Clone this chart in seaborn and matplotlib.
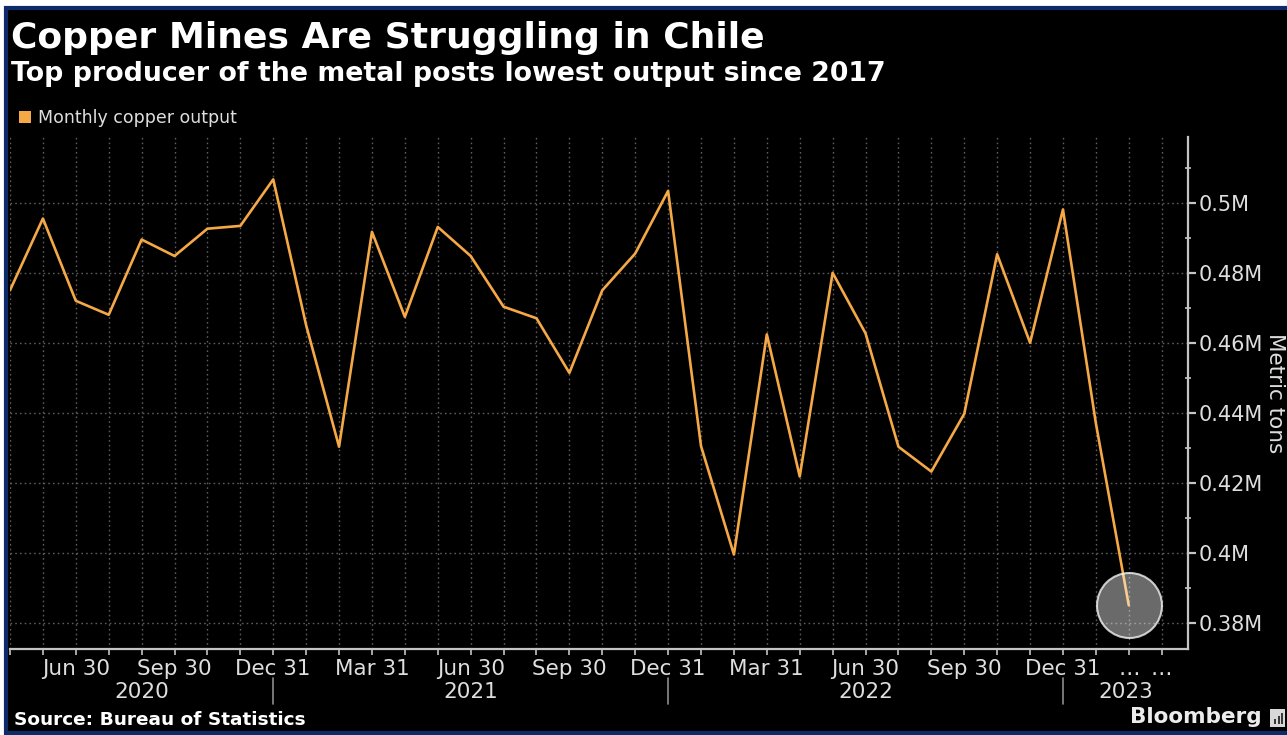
import matplotlib
matplotlib.use("Agg")
import matplotlib.pyplot as plt
from matplotlib.patches import Rectangle, Patch
from matplotlib.lines import Line2D
from matplotlib.ticker import FuncFormatter, MultipleLocator
import matplotlib.transforms as mtransforms
import numpy as np
import pandas as pd
import seaborn as sns

# Monthly copper output in Chile, metric tons (month-end values)
months = [
    "2020-04", "2020-05", "2020-06", "2020-07", "2020-08", "2020-09",
    "2020-10", "2020-11", "2020-12", "2021-01", "2021-02", "2021-03",
    "2021-04", "2021-05", "2021-06", "2021-07", "2021-08", "2021-09",
    "2021-10", "2021-11", "2021-12", "2022-01", "2022-02", "2022-03",
    "2022-04", "2022-05", "2022-06", "2022-07", "2022-08", "2022-09",
    "2022-10", "2022-11", "2022-12", "2023-01", "2023-02",
]
output_tons = [
    475000, 495500, 472000, 468000, 489500, 484800,
    492600, 493400, 506700, 465000, 430300, 491700,
    467400, 493100, 484800, 470300, 467000, 451400,
    475000, 485500, 503400, 430500, 399500, 462400,
    421800, 480000, 462700, 430300, 423200, 439700,
    485300, 460000, 498100, 437000, 385000,
]

# Quarter-end labels along the month axis (one slot per month tick)
tick_labels = [
    "", "", "Jun 30", "", "", "Sep 30", "", "", "Dec 31",
    "", "", "Mar 31", "", "", "Jun 30", "", "", "Sep 30", "", "", "Dec 31",
    "", "", "Mar 31", "", "", "Jun 30", "", "", "Sep 30", "", "", "Dec 31",
    "", "\u2026", "\u2026",
]
year_labels = ["2020", "2021", "2022", "2023"]
y_ticks = [380000, 400000, 420000, 440000, 460000, 480000, 500000]

title = "Copper Mines Are Struggling in Chile"
subtitle = "Top producer of the metal posts lowest output since 2017"
series_name = "Monthly copper output"
source = "Source: Bureau of Statistics"

ORANGE = "#F5A846"
TEXT = "#dedede"
AXIS = "#c4c4c4"
GRID = "#5c5c5c"
NAVY = "#0d2b6b"

df = pd.DataFrame({"month": months, "output": output_tons})
df["idx"] = np.arange(len(df))

sns.set_theme(style="dark", rc={
    "axes.facecolor": "black",
    "figure.facecolor": "white",
    "axes.edgecolor": AXIS,
    "text.color": "white",
})
plt.rcParams["font.family"] = ["DejaVu Sans"]

W, H = 1287, 735
fig = plt.figure(figsize=(W / 100, H / 100), dpi=100)

# black card with a navy frame
card = Rectangle((6 / W, 2.5 / H), 1.2, 1 - 10.5 / H, transform=fig.transFigure,
                 facecolor="black", edgecolor=NAVY, linewidth=3, zorder=-10)
fig.patches.append(card)

left, right, top, bottom = 10, 1188, 137, 649
ax = fig.add_axes([left / W, 1 - bottom / H, (right - left) / W, (bottom - top) / H])
ax.set_facecolor("black")

sns.lineplot(data=df, x="idx", y="output", ax=ax, color=ORANGE,
             linewidth=1.9, legend=False, zorder=2)

# highlight the latest reading
last = df.iloc[-1]
ax.scatter([last["idx"]], [last["output"]], s=2190, facecolor=(1, 1, 1, 0.42),
           edgecolor=(1, 1, 1, 0.75), linewidth=1.5, zorder=3)

ax.set_xlim(0, 35.8)
ax.set_ylim(372500, 518800)

ax.set_xticks(np.arange(len(tick_labels)))
ax.set_xticklabels(tick_labels)
ax.set_yticks(y_ticks)
ax.yaxis.set_minor_locator(MultipleLocator(10000))
ax.yaxis.set_major_formatter(FuncFormatter(lambda v, p: f"{round(v / 1e6, 3):g}M"))

ax.yaxis.tick_right()
ax.yaxis.set_label_position("right")
for s in ["left", "top"]:
    ax.spines[s].set_visible(False)
for s in ["right", "bottom"]:
    ax.spines[s].set_visible(True)
    ax.spines[s].set_color(AXIS)
    ax.spines[s].set_linewidth(1.6)

ax.grid(True, which="major", color=GRID, linestyle=(0, (1.2, 2.2)), linewidth=1.0)
ax.set_axisbelow(True)

ax.tick_params(axis="x", which="major", direction="out", length=4, width=1.2,
               color=AXIS, labelsize=15.5, labelcolor=TEXT, pad=3, bottom=True)
ax.tick_params(axis="y", which="major", direction="out", length=6, width=1.6,
               color=AXIS, labelsize=15, labelcolor=TEXT, pad=2, right=True, left=False)
ax.tick_params(axis="y", which="minor", direction="inout", length=5, width=1.2,
               color=AXIS, right=True, left=False)

ax.set_xlabel("")
ax.set_ylabel("Metric tons", rotation=270, color=TEXT, fontsize=15.5,
              ha="center", va="center")
ax.yaxis.set_label_coords((1275 - left) / (right - left), 0.5)

# year bands under the month labels
trans = mtransforms.blended_transform_factory(ax.transData, ax.transAxes)
year_breaks = [0, 8, 20, 32, 35.8]
for i, yl in enumerate(year_labels):
    mid = (year_breaks[i] + year_breaks[i + 1]) / 2
    ax.text(mid, -(692 - bottom) / (bottom - top), yl, transform=trans,
            ha="center", va="center", fontsize=15.5, color=TEXT)
for xb in year_breaks[1:-1]:
    ax.add_line(Line2D([xb, xb], [-(678 - bottom) / (bottom - top), -(704 - bottom) / (bottom - top)],
                       transform=trans, color="#8c8c8c", linewidth=1.2, clip_on=False))

# headings and legend
fig.text(11 / W, 1 - 38 / H, title, fontsize=26, weight="bold", color="white", va="center")
fig.text(11 / W, 1 - 74 / H, subtitle, fontsize=19.3, weight="bold", color="white", va="center")
fig.legend(handles=[Patch(facecolor=ORANGE, edgecolor="none", label=series_name)],
           loc="center left", bbox_to_anchor=(19 / W, 1 - 118 / H), frameon=False,
           handlelength=0.7, handleheight=0.7, handletextpad=0.4,
           borderaxespad=0, borderpad=0, fontsize=12.5, labelcolor=TEXT)

# footer
fig.text(14 / W, 1 - 720 / H, source, fontsize=13.3, weight="bold", color="white", va="center")
fig.text(1262 / W, 1 - 717 / H, "Bloomberg", fontsize=15.5, weight="bold",
         color="#ececec", ha="right", va="center")
icon = Rectangle((1270 / W, 1 - 727 / H), 15 / W, 18 / H, transform=fig.transFigure,
                 facecolor="#d8d8d8", edgecolor="none")
fig.patches.append(icon)
for bx, bh in [(1274, 5), (1277.5, 8), (1281, 11)]:
    fig.patches.append(Rectangle((bx / W, 1 - 724 / H), 2 / W, bh / H,
                                 transform=fig.transFigure, facecolor="#3a3a3a",
                                 edgecolor="none"))

fig.savefig("out.png", dpi=100, facecolor="white")
